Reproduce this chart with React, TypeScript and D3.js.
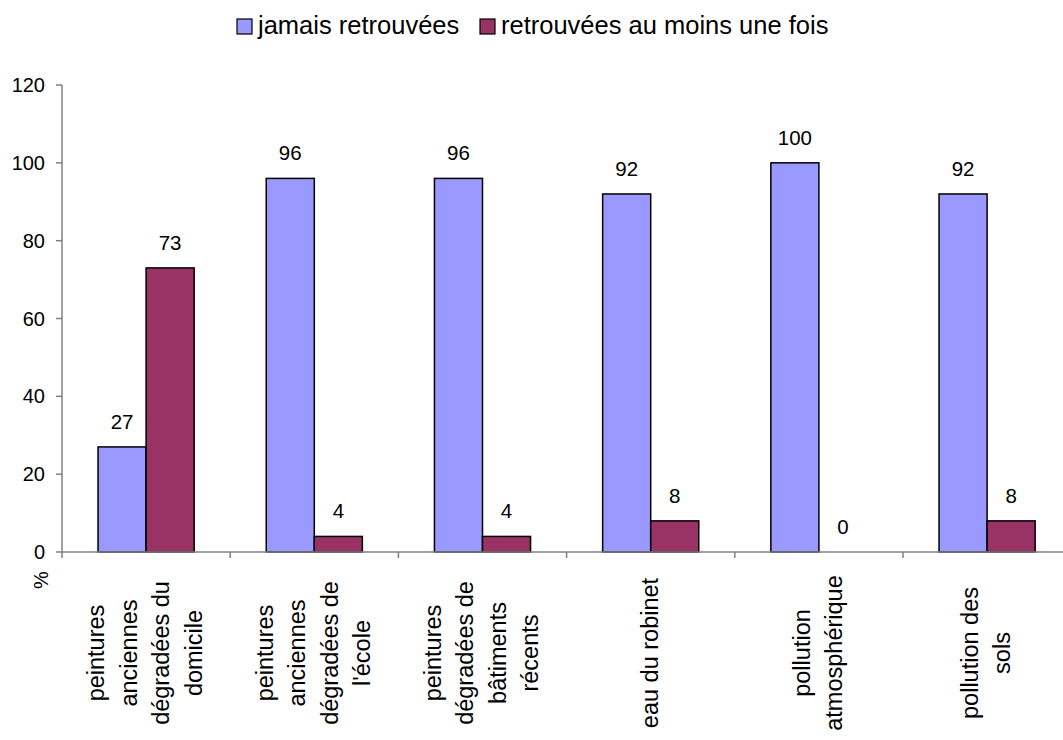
import React from "react";
import * as d3 from "d3";

const categories: string[][] = [
  ["peintures", "anciennes", "dégradées du", "domicile"],
  ["peintures", "anciennes", "dégradées de", "l'école"],
  ["peintures", "dégradées de", "bâtiments", "récents"],
  ["eau du robinet"],
  ["pollution", "atmosphérique"],
  ["pollution des", "sols"],
];
const jamais: number[] = [27, 96, 96, 92, 100, 92];
const retrouvees: number[] = [73, 4, 4, 8, 0, 8];
const seriesNames: string[] = ["jamais retrouvées", "retrouvées au moins une fois"];
const seriesColors: string[] = ["#9999FF", "#993366"];
const yTicks: number[] = [0, 20, 40, 60, 80, 100, 120];

const W = 1063;
const H = 740;
const left = 62;
const step = 168.2;
const top = 85;
const bottom = 552;
const FONT = "Arial, 'Liberation Sans', sans-serif";

export default function App() {
  const idx = categories.map((_, i) => String(i));
  const x = d3.scaleBand<string>().domain(idx).range([left, left + step * categories.length]).paddingInner(0).paddingOuter(0);
  const y = d3.scaleLinear().domain([0, 120]).range([bottom, top]);
  const bw = x.bandwidth() / 3.5;
  const series = [jamais, retrouvees];
  const legendX = [237, 480];

  return (
    <svg width={W} height={H} style={{ position: "absolute", left: 0, top: 0, background: "#fff" }} fontFamily={FONT}>
      {/* legend */}
      {seriesNames.map((n, i) => (
        <g key={n}>
          <rect x={legendX[i]} y={19} width={15} height={15} fill={seriesColors[i]} stroke="#000" strokeWidth={1.2} />
          <text x={legendX[i] + 21} y={34} fontSize={25.5} fill="#000">{n}</text>
        </g>
      ))}
      {/* bars */}
      {series.map((s, si) =>
        s.map((v, i) => {
          const cx = (x(String(i)) as number) + x.bandwidth() / 2;
          const bx = cx - bw + si * bw;
          return (
            <g key={si + "-" + i}>
              {v > 0 && <rect x={bx} y={y(v)} width={bw} height={y(0) - y(v)} fill={seriesColors[si]} stroke="#000" strokeWidth={1.5} />}
              <text x={bx + bw / 2} y={y(v) - 18} textAnchor="middle" fontSize={20.5} fill="#000">{v}</text>
            </g>
          );
        })
      )}
      {/* y axis */}
      <line x1={left} x2={left} y1={top} y2={bottom} stroke="#808080" strokeWidth={1.5} />
      {yTicks.map((t) => (
        <g key={t}>
          <line x1={left - 6} x2={left} y1={y(t)} y2={y(t)} stroke="#808080" strokeWidth={1.5} />
          <text x={left - 17} y={y(t) + 7} textAnchor="end" fontSize={20} fill="#000">{t}</text>
        </g>
      ))}
      {/* x axis */}
      <line x1={left} x2={left + step * categories.length} y1={bottom} y2={bottom} stroke="#808080" strokeWidth={1.5} />
      {d3.range(categories.length + 1).map((i) => (
        <line key={i} x1={left + step * i} x2={left + step * i} y1={bottom} y2={bottom + 6} stroke="#808080" strokeWidth={1.5} />
      ))}
      <text transform={`translate(${48},${580}) rotate(-90)`} textAnchor="middle" fontSize={20} fill="#000">%</text>
      {categories.map((lines, i) => {
        const cx = (x(String(i)) as number) + x.bandwidth() / 2;
        const lh = 32.5;
        return (
          <g key={i}>
            {lines.map((l, j) => {
              const vc = cx - 1 + (j - (lines.length - 1) / 2) * lh;
              return (
                <text key={j} transform={`translate(${vc + 8},${653}) rotate(-90)`} textAnchor="middle" fontSize={23.5} fill="#000">{l}</text>
              );
            })}
          </g>
        );
      })}
    </svg>
  );
}
